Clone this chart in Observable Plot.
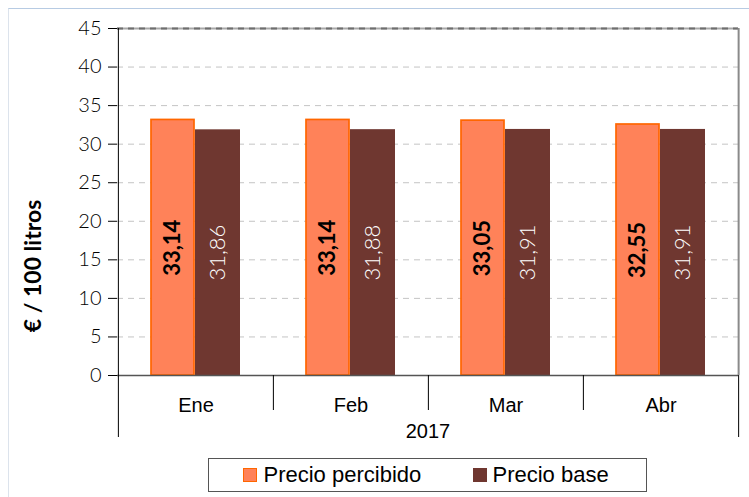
<!DOCTYPE html>
<html><head><meta charset="utf-8">
<script src="https://cdn.jsdelivr.net/npm/d3@7"></script>
<script src="https://cdn.jsdelivr.net/npm/@observablehq/plot@0.6"></script>
<style>
body{margin:0;background:#fff;}
#wrap{position:relative;width:749px;height:497px;overflow:hidden;background:#fff;}
#border{position:absolute;left:8px;top:8px;width:780px;height:520px;border-top:1px solid #B7CBE3;border-left:1px solid #DCE3EC;}
#chart{position:absolute;left:0;top:0;}
#legend{position:absolute;left:208px;top:458px;width:439px;height:34px;box-sizing:border-box;border:1.5px solid #555;background:#fff;font-family:"Liberation Sans",Arial,sans-serif;font-size:22px;color:#000;}
.sw{position:absolute;top:9px;width:14px;height:14px;box-sizing:border-box;}
.lt{position:absolute;top:2px;line-height:28px;white-space:nowrap;}
</style></head>
<body>
<div id="wrap"><div id="border"></div><div id="chart"></div><div id="legend"></div></div>
<script>
const months = ["Ene", "Feb", "Mar", "Abr"];
const percibido = [33.14, 33.14, 33.05, 32.55];
const base = [31.86, 31.88, 31.91, 31.91];
const yTicks = [0, 5, 10, 15, 20, 25, 30, 35, 40, 45];
const year = "2017";
const seriesNames = ["Precio percibido", "Precio base"];
const yLabel = "€ / 100 litros";
const colors = {fill: "#FF8259", stroke: "#FF6600", base: "#6F3730"};

const rowsP = months.map((m, i) => ({month: m, value: percibido[i]}));
const rowsB = months.map((m, i) => ({month: m, value: base[i]}));
const fmt = v => d3.format(".2f")(v).replace(".", ",");
const half = (749 - 117 - 11) / months.length / 2;
const numFont = "Lato, 'Open Sans', sans-serif";
const txtFont = "'Liberation Sans', Arial, sans-serif";

const chart = Plot.plot({
  width: 749,
  height: 450,
  marginLeft: 117,
  marginRight: 11,
  marginTop: 28,
  marginBottom: 75,
  style: {background: "transparent", overflow: "visible"},
  x: {type: "band", domain: months, padding: 0, axis: null},
  y: {domain: [0, 45], axis: null},
  marks: [
    Plot.ruleY(yTicks.filter(t => t > 0 && t < 45), {stroke: "#c4c4c4", strokeDasharray: "6,5"}),
    Plot.ruleY([45], {stroke: "#a8a8a8", strokeWidth: 2}),
    Plot.ruleY([45], {stroke: "#6e6e6e", strokeWidth: 2, strokeDasharray: "6,5"}),
    Plot.ruleX([months[months.length - 1]], {dx: half, stroke: "#8a8a8a", strokeWidth: 2}),
    Plot.barY(rowsP, {x: "month", y: "value", fill: colors.fill, stroke: colors.stroke, strokeWidth: 1.7, insetLeft: 33, insetRight: 79}),
    Plot.barY(rowsB, {x: "month", y: "value", fill: colors.base, insetLeft: 77, insetRight: 33}),
    Plot.text(rowsP, {x: "month", y: d => d.value / 2, text: d => fmt(d.value), rotate: -90, dx: -23, fill: "#000", fontWeight: "bold", fontSize: 22, fontFamily: numFont}),
    Plot.text(rowsB, {x: "month", y: d => d.value / 2, text: d => fmt(d.value), rotate: -90, dx: 22, fill: "#fff", fontWeight: 300, fontSize: 22, fontFamily: numFont}),
    Plot.ruleY([0], {stroke: "#555", strokeWidth: 1.5}),
    Plot.ruleX(months.slice(1), {dx: -half, stroke: "#000", insetTop: 347, insetBottom: -35}),
    Plot.ruleX([months[0]], {dx: -half, stroke: "#000", insetBottom: -62}),
    Plot.ruleX([months[months.length - 1]], {dx: half, stroke: "#000", insetTop: 347, insetBottom: -62}),
    Plot.axisY({ticks: yTicks, tickSize: 9, tickPadding: 7, fontSize: 20, fontFamily: numFont, fontWeight: 300, label: null, color: "#000"}),
    Plot.text(months, {x: d => d, frameAnchor: "bottom", dy: 30, lineAnchor: "middle", fontSize: 20, fontFamily: txtFont, fill: "#000"}),
    Plot.text([year], {frameAnchor: "bottom", dy: 55.6, lineAnchor: "middle", fontSize: 20, fontFamily: txtFont, fill: "#000"}),
    Plot.text([yLabel], {frameAnchor: "left", textAnchor: "middle", dx: -84, dy: 64, rotate: -90, fontSize: 23, fontWeight: "bold", fontFamily: numFont, fill: "#000", style: "letter-spacing:2.4px"})
  ]
});
document.getElementById("chart").appendChild(chart);

const legend = document.getElementById("legend");
const items = [
  {name: seriesNames[0], sw: 33.5, tx: 54.5, fill: colors.fill, stroke: colors.stroke},
  {name: seriesNames[1], sw: 263.5, tx: 283.5, fill: colors.base, stroke: colors.base}
];
for (const it of items) {
  const s = document.createElement("div");
  s.className = "sw";
  s.style.left = it.sw + "px";
  s.style.background = it.fill;
  s.style.border = "1.5px solid " + it.stroke;
  legend.appendChild(s);
  const t = document.createElement("div");
  t.className = "lt";
  t.style.left = it.tx + "px";
  t.textContent = it.name;
  legend.appendChild(t);
}
</script>
</body></html>
